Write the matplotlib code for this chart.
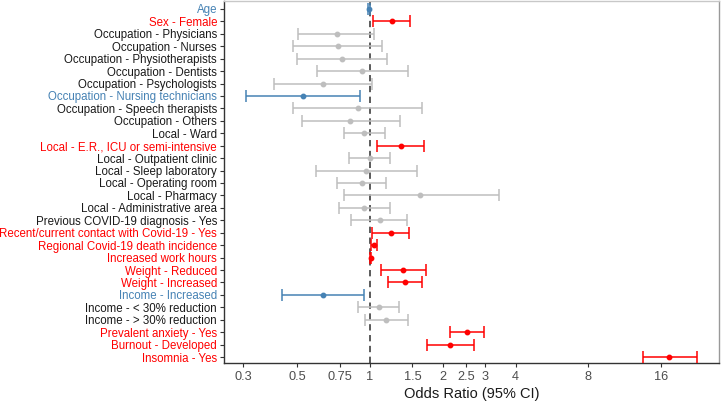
import matplotlib
matplotlib.use('Agg')
import matplotlib.pyplot as plt
import numpy as np

plt.rcParams['font.family'] = ['Liberation Sans', 'DejaVu Sans']

# rows, top to bottom
labels = ["Age", "Sex - Female",
          "Occupation - Physicians", "Occupation - Nurses",
          "Occupation - Physiotherapists", "Occupation - Dentists",
          "Occupation - Psychologists", "Occupation - Nursing technicians",
          "Occupation - Speech therapists", "Occupation - Others",
          "Local - Ward", "Local - E.R., ICU or semi-intensive",
          "Local - Outpatient clinic", "Local - Sleep laboratory",
          "Local - Operating room", "Local - Pharmacy",
          "Local - Administrative area", "Previous COVID-19 diagnosis - Yes",
          "Recent/current contact with Covid-19 - Yes",
          "Regional Covid-19 death incidence", "Increased work hours",
          "Weight - Reduced", "Weight - Increased", "Income - Increased",
          "Income - < 30% reduction", "Income - > 30% reduction",
          "Prevalent anxiety - Yes", "Burnout - Developed", "Insomnia - Yes"]
odds = [0.99, 1.23, 0.73, 0.74, 0.77, 0.93, 0.64, 0.53, 0.89, 0.83,
        0.95, 1.34, 1.00, 0.965, 0.93, 1.62, 0.95, 1.10, 1.22,
        1.04, 1.01, 1.37, 1.40, 0.64, 1.09, 1.17, 2.52, 2.14, 17.3]
lower = [0.98, 1.03, 0.506, 0.483, 0.499, 0.603, 0.403, 0.307, 0.483, 0.523,
         0.783, 1.076, 0.82, 0.597, 0.733, 0.783, 0.747, 0.835, 1.02,
         1.01, 1.005, 1.11, 1.19, 0.432, 0.89, 0.96, 2.15, 1.72, 13.4]
upper = [1.0, 1.46, 1.04, 1.128, 1.18, 1.44, 1.02, 0.91, 1.64, 1.33,
         1.16, 1.67, 1.21, 1.56, 1.17, 3.41, 1.21, 1.43, 1.45,
         1.076, 1.015, 1.70, 1.65, 0.945, 1.32, 1.44, 2.96, 2.69, 22.4]
# effect: 1 = higher risk, -1 = lower risk, 0 = not significant
effect = [-1, 1, 0, 0, 0, 0, 0, -1, 0, 0, 0, 1, 0, 0, 0, 0, 0, 0, 1,
          1, 1, 1, 1, -1, 0, 0, 1, 1, 1]
xticks = [0.3, 0.5, 0.75, 1, 1.5, 2, 2.5, 3, 4, 8, 16]

bar_col = {1: '#FF0000', -1: '#4682B4', 0: '#BEBEBE'}
lab_col = {1: '#FF0000', -1: '#4682B4', 0: '#1A1A1A'}

fig = plt.figure(figsize=(7.21, 4.03), dpi=100)
ax = fig.add_axes([0.3107, 0.0993, 0.6865, 0.8982])

n = len(labels)
ypos = np.arange(n, 0, -1)

for i in range(n):
    c = bar_col[effect[i]]
    ax.errorbar(odds[i], ypos[i],
                xerr=[[odds[i] - lower[i]], [upper[i] - odds[i]]],
                fmt='o', color=c, ms=3.2, lw=1.1, capsize=4.2, capthick=1.1,
                zorder=3)

ax.axvline(1, color='#4D4D4D', ls=(0, (3.5, 2.5)), lw=1.3, zorder=2)

ax.set_xscale('log')
ax.set_xlim(0.25, 27.7)
ax.set_ylim(0.52, n + 0.64)
ax.set_xticks(xticks)
ax.set_xticklabels([str(t) for t in xticks])
ax.xaxis.set_minor_locator(matplotlib.ticker.NullLocator())
ax.set_yticks(ypos)
ax.set_yticklabels(labels)
for t, e in zip(ax.get_yticklabels(), effect):
    t.set_color(lab_col[e])

ax.tick_params(axis='y', labelsize=8.3, length=3, width=0.8, color='#333333', pad=2)
ax.tick_params(axis='x', labelsize=9.2, length=3, width=0.8, color='#333333',
               labelcolor='#4D4D4D', pad=3)
ax.set_xlabel('Odds Ratio (95% CI)', fontsize=10.5, color='#1A1A1A', labelpad=3)

ax.spines['left'].set_color('#333333')
ax.spines['bottom'].set_color('#333333')
ax.spines['top'].set_color('#C8C8C8')
ax.spines['right'].set_color('#999999')
for s in ax.spines.values():
    s.set_linewidth(1.0)

fig.savefig('out.png', dpi=100)
